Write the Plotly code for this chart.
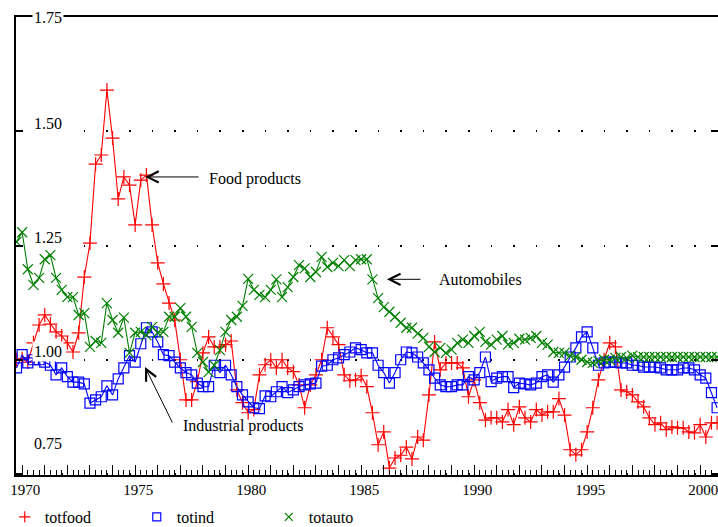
import numpy as np
import plotly.graph_objects as go

# ---------------- data (quarterly, 1970Q1 .. 2001Q1) ----------------
start_year = 1969.75  # position of first observation on the reference's year axis
totfood = [
    1.000, 1.002, 0.995, 1.037, 1.076, 1.098, 1.078, 1.061, 1.052, 1.037,
    1.017, 1.059, 1.181, 1.255, 1.428, 1.448, 1.590, 1.485, 1.352, 1.400,
    1.382, 1.295, 1.393, 1.404, 1.295, 1.212, 1.166, 1.124, 1.087, 1.000,
    0.912, 0.912, 0.952, 1.015, 1.050, 1.028, 1.028, 1.033, 1.041, 0.934,
    0.906, 0.884, 0.891, 0.967, 0.989, 1.000, 0.982, 1.000, 0.982, 0.974,
    0.945, 0.895, 0.945, 0.967, 1.000, 1.070, 1.050, 1.033, 0.967, 0.954,
    0.956, 0.965, 0.941, 0.884, 0.814, 0.842, 0.763, 0.785, 0.791, 0.809,
    0.783, 0.831, 0.824, 0.923, 1.039, 0.978, 0.993, 0.993, 0.993, 0.982,
    0.919, 0.956, 0.906, 0.868, 0.873, 0.873, 0.864, 0.891, 0.858, 0.897,
    0.873, 0.864, 0.891, 0.879, 0.886, 0.886, 0.915, 0.879, 0.803, 0.792,
    0.803, 0.842, 0.895, 0.956, 1.000, 1.037, 1.028, 0.934, 0.930, 0.923,
    0.908, 0.897, 0.873, 0.858, 0.862, 0.847, 0.853, 0.851, 0.851, 0.842,
    0.840, 0.858, 0.831, 0.862, 0.862,
]
totind = [
    0.982, 1.011, 0.993, 1.000, 1.000, 0.995, 0.988, 0.967, 0.982, 0.963,
    0.951, 0.951, 0.947, 0.905, 0.912, 0.919, 0.943, 0.923, 0.958, 0.982,
    1.009, 0.995, 1.035, 1.070, 1.061, 1.039, 1.011, 1.009, 0.995, 0.982,
    0.972, 0.967, 0.949, 0.941, 0.941, 0.988, 0.972, 0.988, 0.967, 0.941,
    0.923, 0.908, 0.895, 0.893, 0.921, 0.919, 0.930, 0.941, 0.928, 0.934,
    0.941, 0.945, 0.947, 0.949, 0.986, 0.988, 1.000, 1.004, 1.011, 1.017,
    1.026, 1.022, 1.015, 1.015, 0.988, 0.972, 0.949, 0.972, 1.000, 1.017,
    1.015, 1.006, 0.993, 0.978, 0.960, 0.945, 0.941, 0.941, 0.945, 0.945,
    0.963, 0.956, 0.972, 1.006, 0.952, 0.960, 0.963, 0.963, 0.939, 0.949,
    0.947, 0.945, 0.949, 0.963, 0.967, 0.951, 0.967, 0.984, 1.006, 1.026,
    1.050, 1.061, 1.026, 0.988, 0.993, 0.995, 0.995, 0.993, 0.993, 0.988,
    0.988, 0.984, 0.984, 0.984, 0.982, 0.978, 0.978, 0.978, 0.982, 0.982,
    0.978, 0.967, 0.960, 0.928, 0.895,
]
totauto = [
    1.258, 1.279, 1.198, 1.164, 1.179, 1.220, 1.229, 1.179, 1.153, 1.137,
    1.137, 1.098, 1.102, 1.028, 1.041, 1.037, 1.124, 1.087, 1.059, 1.092,
    1.015, 1.059, 1.061, 1.054, 1.072, 1.059, 1.061, 1.094, 1.094, 1.113,
    1.094, 1.072, 1.015, 0.995, 0.973, 0.988, 1.021, 1.061, 1.087, 1.094,
    1.118, 1.177, 1.153, 1.142, 1.137, 1.153, 1.176, 1.137, 1.159, 1.181,
    1.207, 1.200, 1.181, 1.192, 1.225, 1.203, 1.212, 1.205, 1.218, 1.205,
    1.218, 1.220, 1.220, 1.176, 1.135, 1.115, 1.105, 1.094, 1.081, 1.070,
    1.070, 1.057, 1.048, 1.028, 1.017, 1.026, 1.015, 1.022, 1.037, 1.044,
    1.037, 1.052, 1.061, 1.039, 1.033, 1.044, 1.052, 1.033, 1.037, 1.046,
    1.044, 1.048, 1.052, 1.037, 1.033, 1.017, 1.015, 1.015, 1.009, 1.006,
    1.000, 0.995, 0.993, 0.997, 1.000, 1.000, 1.004, 1.006, 1.004, 1.009,
    1.006, 1.006, 1.006, 1.006, 1.006, 1.006, 1.006, 1.006, 1.006, 1.006,
    1.006, 1.006, 1.006, 1.006, 1.006,
]
series_names = ["totfood", "totind", "totauto"]
series_colors = ["#ff0000", "#0000ff", "#008000"]
series_symbols = ["cross-thin-open", "square-open", "x-thin-open"]

year_ticks = list(range(1970, 2001))
year_labels = [str(y) if y % 5 == 0 else "" for y in year_ticks]
y_ticks = [0.75, 1.00, 1.25, 1.50, 1.75]
y_labels = ["0.75", "1.00", "1.25", "1.50", "1.75"]

annotations_text = ["Food products", "Automobiles", "Industrial products"]

# ---------------- figure ----------------
n = len(totfood)
dates = start_year + 0.25 * np.arange(n)

FONT = "Liberation Serif, Times New Roman, serif"
fig = go.Figure()
for name, vals, col, sym in zip(series_names, [totfood, totind, totauto],
                                series_colors, series_symbols):
    fig.add_trace(go.Scatter(
        x=dates, y=vals, mode="lines+markers", name=name, showlegend=False,
        line=dict(color=col, width=1.1),
        marker=dict(symbol=sym, size=10, color=col, line=dict(color=col, width=1.2)),
    ))
for name, col, sym in zip(series_names, series_colors, series_symbols):
    fig.add_trace(go.Scatter(
        x=[None], y=[None], mode="markers", name=name,
        marker=dict(symbol=sym, size=8, color=col, line=dict(color=col, width=1.2)),
    ))

W, H = 718, 527
L, R, T, B = 16, 0, 17, 52
px_per_year = 22.6
x_left = start_year - 0.5 / px_per_year
x_right = x_left + (W - L - R) / px_per_year

fig.update_layout(
    width=W, height=H,
    margin=dict(l=L, r=R, t=T, b=B, autoexpand=False),
    paper_bgcolor="white", plot_bgcolor="white",
    font=dict(family=FONT, size=16, color="black"),
    showlegend=True,
    legend=dict(orientation="h", x=-0.016, xanchor="left", y=-0.0917, yanchor="middle",
                font=dict(family=FONT, size=16), entrywidth=87,
                entrywidthmode="pixels", bgcolor="rgba(0,0,0,0)",
                borderwidth=0, itemclick=False),
)
fig.update_xaxes(
    range=[x_left, x_right], showgrid=False, zeroline=False,
    showline=True, linecolor="black", linewidth=1.5, mirror=True,
    tickmode="array", tickvals=year_ticks, ticktext=year_labels,
    ticks="inside", ticklen=10, tickwidth=1, tickcolor="black",
    ticklabelshift=3, ticklabeloverflow="allow",
    tickfont=dict(family=FONT, size=15),
    minor=dict(tickmode="linear", tick0=start_year, dtick=0.25,
               ticks="inside", ticklen=5, tickwidth=1, tickcolor="black"),
)
fig.update_yaxes(
    range=[0.7478, 1.75], zeroline=False,
    showline=True, linecolor="black", linewidth=1.5, mirror="ticks",
    tickmode="array", tickvals=y_ticks, showticklabels=False,
    ticks="inside", ticklen=7, tickwidth=1.5, tickcolor="black",
    showgrid=True, gridcolor="black", gridwidth=1.6, griddash="1.6px,21px",
)

# y tick labels drawn on a white background over the frame, as in the reference
label_shift = {0.75: 30, 1.00: 8, 1.25: 8, 1.50: 8, 1.75: 0}
for v, lab in zip(y_ticks, y_labels):
    fig.add_annotation(x=16 / 702, xref="paper", y=v, yref="y", text=lab,
                       showarrow=False, xanchor="left", yanchor="middle",
                       yshift=label_shift[v], bgcolor="white",
                       font=dict(family=FONT, size=16), borderpad=1)

# arrows and labels
arrows = [  # (tip x, tip y, tail offset px)
    (1975.44, 1.400, 55, 0),
    (1986.14, 1.176, 35, 0),
    (1975.44, 0.984, 28, 57),
]
for (tx, ty, axp, ayp) in arrows:
    fig.add_annotation(x=tx, y=ty, xref="x", yref="y", text="", showarrow=True,
                       ax=axp, ay=ayp, arrowhead=5, arrowsize=2.2, arrowwidth=1,
                       arrowcolor="black", standoff=0)
text_pos = [(1975.44, 1.400, 62, -2), (1986.14, 1.176, 50, 0), (1975.44, 0.984, 36, -59)]
for lab, (tx, ty, xs, ys) in zip(annotations_text, text_pos):
    fig.add_annotation(x=tx, y=ty, xref="x", yref="y", text=lab, showarrow=False,
                       xanchor="left", yanchor="middle", xshift=xs, yshift=ys,
                       font=dict(family=FONT, size=16))

fig.write_html(
    "out.html",
    config={"displayModeBar": False},
    post_script="document.body.style.margin='0px';document.body.style.overflow='hidden';",
)
